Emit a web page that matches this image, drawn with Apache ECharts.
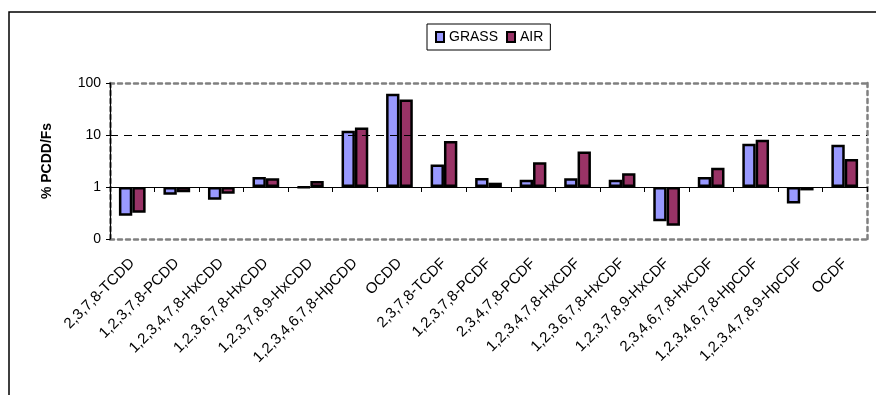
<!DOCTYPE html>
<html>
<head>
<meta charset="utf-8">
<title>PCDD/F congener profile</title>
<script src="https://cdn.jsdelivr.net/npm/echarts@6/dist/echarts.min.js"></script>
<style>
  html, body { margin: 0; padding: 0; background: #fff; }
  #chart { width: 876px; height: 395px; }
</style>
</head>
<body>
<div id="chart"></div>
<script>
// Congeners on the category axis
const congeners = [
  '2,3,7,8-TCDD', '1,2,3,7,8-PCDD', '1,2,3,4,7,8-HxCDD', '1,2,3,6,7,8-HxCDD',
  '1,2,3,7,8,9-HxCDD', '1,2,3,4,6,7,8-HpCDD', 'OCDD', '2,3,7,8-TCDF',
  '1,2,3,7,8-PCDF', '2,3,4,7,8-PCDF', '1,2,3,4,7,8-HxCDF', '1,2,3,6,7,8-HxCDF',
  '1,2,3,7,8,9-HxCDF', '2,3,4,6,7,8-HxCDF', '1,2,3,4,6,7,8-HpCDF',
  '1,2,3,4,7,8,9-HpCDF', 'OCDF'
];

// % PCDD/Fs per congener
const grassValues = [0.28, 0.71, 0.57, 1.56, 0.97, 12.1, 62, 2.7, 1.49, 1.38, 1.47, 1.38, 0.22, 1.56, 6.8, 0.48, 6.5];
const airValues   = [0.32, 0.79, 0.74, 1.47, 1.30, 14.0, 48, 7.7, 1.21, 2.98, 4.84, 1.83, 0.18, 2.35, 8.1, 0.86, 3.45];

// Log axis range and tick labels (lowest decade is printed as 0)
const yMin = 0.1;
const yMax = 100;
const yTickLabels = { 0.1: '0', 1: '1', 10: '10', 100: '100' };

const seriesNames = ['GRASS', 'AIR'];
const seriesColors = ['#9999FF', '#993366'];

const FONT = 'Arial, "Liberation Sans", sans-serif';
const grid = { left: 110, right: 9, top: 83, bottom: 156 };
const plotHeight = 395 - grid.top - grid.bottom;
const decades = Math.log10(yMax) - Math.log10(yMin);
// the category axis crosses the value axis at 1
const axisLift = plotHeight * (Math.log10(1) - Math.log10(yMin)) / decades;

const grayBorder = { color: '#808080', width: 2.5, type: [4, 4] };

const chart = echarts.init(document.getElementById('chart'), null, { renderer: 'canvas' });

chart.setOption({
  animation: false,
  backgroundColor: '#ffffff',
  textStyle: { fontFamily: FONT },
  graphic: [{
    type: 'rect',
    shape: { x: 9, y: 12, width: 900, height: 420 },
    style: { fill: 'none', stroke: '#000', lineWidth: 1.5 },
    silent: true
  }],
  legend: {
    data: seriesNames,
    left: 427,
    top: 24,
    orient: 'horizontal',
    padding: [6, 7, 6, 8],
    borderColor: '#000',
    borderWidth: 1,
    itemWidth: 8,
    itemHeight: 10,
    itemGap: 8,
    icon: 'rect',
    textStyle: { fontSize: 14, color: '#000', fontFamily: FONT }
  },
  grid: { left: grid.left, right: grid.right, top: grid.top, bottom: grid.bottom, containLabel: false },
  xAxis: [
    {
      type: 'category',
      data: congeners,
      position: 'bottom',
      offset: -axisLift,
      z: 5,
      axisLine: { show: true, lineStyle: { color: '#000', width: 1.2 } },
      axisTick: { show: true, length: 5, lineStyle: { color: '#000' } },
      axisLabel: {
        interval: 0, rotate: 45, margin: axisLift + 22,
        fontSize: 15, color: '#000', fontFamily: FONT
      },
      splitLine: { show: false }
    },
    {
      type: 'category',
      data: congeners,
      position: 'top',
      axisLine: { show: true, lineStyle: grayBorder },
      axisTick: { show: false },
      axisLabel: { show: false }
    },
    {
      type: 'category',
      data: congeners,
      position: 'bottom',
      offset: 0,
      axisLine: { show: true, lineStyle: grayBorder },
      axisTick: { show: false },
      axisLabel: { show: false }
    }
  ],
  yAxis: [
    {
      type: 'log',
      logBase: 10,
      min: yMin,
      max: yMax,
      position: 'left',
      z: 5,
      name: '% PCDD/Fs',
      nameLocation: 'middle',
      nameGap: 56,
      nameTextStyle: { fontSize: 14, fontWeight: 'bold', color: '#000', fontFamily: FONT },
      axisLine: { show: true, lineStyle: { color: '#000', width: 1.2 } },
      axisTick: { show: true, length: 4, lineStyle: { color: '#000' } },
      axisLabel: {
        margin: 9, fontSize: 14, color: '#000', fontFamily: FONT,
        formatter: v => {
          const key = Number(v.toPrecision(6));
          return yTickLabels[key] !== undefined ? yTickLabels[key] : '';
        }
      },
      splitLine: {
        show: true,
        lineStyle: {
          color: ['rgba(0,0,0,0)', 'rgba(0,0,0,0)', '#000', 'rgba(0,0,0,0)'],
          type: [8, 6],
          width: 1
        }
      }
    },
    {
      type: 'log',
      logBase: 10,
      min: yMin,
      max: yMax,
      position: 'right',
      axisLine: { show: true, lineStyle: grayBorder },
      axisTick: { show: false },
      axisLabel: { show: false },
      splitLine: { show: false }
    },
    {
      type: 'log',
      logBase: 10,
      min: yMin,
      max: yMax,
      position: 'left',
      offset: 0,
      z: 1,
      axisLine: { show: true, lineStyle: grayBorder },
      axisTick: { show: false },
      axisLabel: { show: false },
      splitLine: { show: false }
    }
  ],
  series: [
    {
      name: seriesNames[0],
      type: 'bar',
      xAxisIndex: 0,
      yAxisIndex: 0,
      data: grassValues,
      barGap: '0%',
      barCategoryGap: '40%',
      itemStyle: { color: seriesColors[0], borderColor: '#000', borderWidth: 2.5 }
    },
    {
      name: seriesNames[1],
      type: 'bar',
      xAxisIndex: 0,
      yAxisIndex: 0,
      data: airValues,
      barGap: '0%',
      barCategoryGap: '40%',
      itemStyle: { color: seriesColors[1], borderColor: '#000', borderWidth: 2.5 }
    }
  ]
});
</script>
</body>
</html>
